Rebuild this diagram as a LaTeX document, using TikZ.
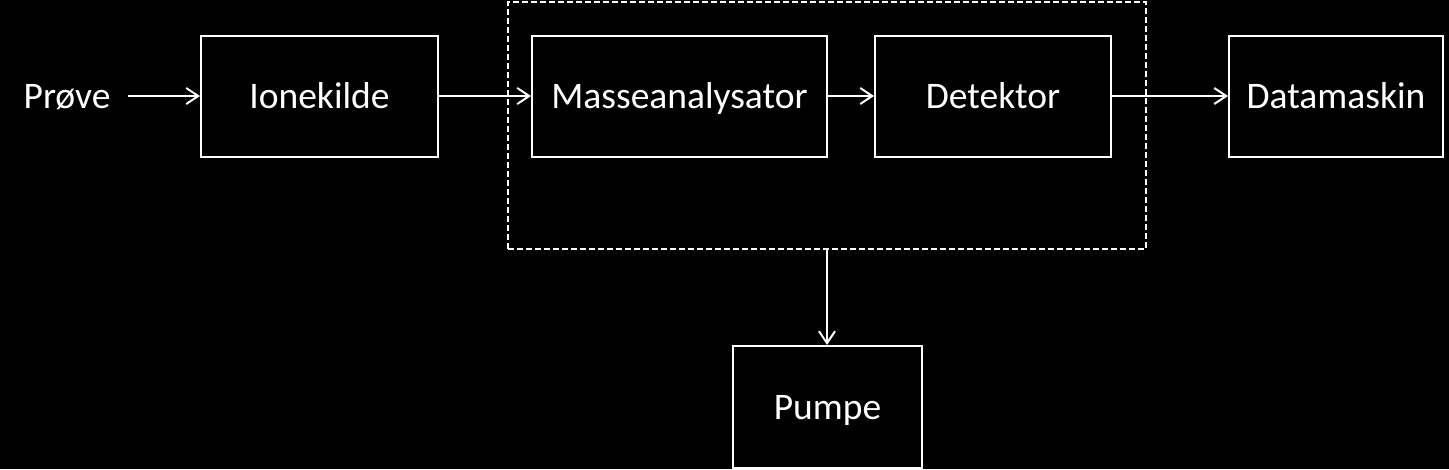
\documentclass[tikz,border=0pt]{standalone}
\usepackage{fontspec}
\setmainfont{Carlito}
\usepackage{tikz}
\usetikzlibrary{positioning,arrows.meta}
\tikzset{block/.style={rectangle,draw=white,line width=2pt,inner sep=0pt,minimum height=121pt,text=white,text height=24pt,text depth=0pt,font=\fontsize{37.5}{40}\selectfont}}
\tikzset{flow/.style={-{Straight Barb[length=12pt,width=16pt,line width=2pt]},draw=white,line width=2pt}}

\begin{document}
\begin{tikzpicture}[x=1pt,y=-1pt]
        \fill[black] (0,0) rectangle (1449,469);
        \useasboundingbox (0,0) rectangle (1449,469);

        \node[block,minimum width=237pt] (ionekilde) at (319.5,96) {Ionekilde};
        \node[text=white,text height=24pt,text depth=0pt,font=\fontsize{37.5}{40}\selectfont] (prove) at (67,96) {Prøve};
        \coordinate (inn) at (128,96);

        \node[block,minimum width=295pt,right=92pt of ionekilde] (masse) {Masseanalysator};
        \node[block,minimum width=236pt,right=46pt of masse] (detektor) {Detektor};
        \node[block,minimum width=214pt,right=116pt of detektor] (datamaskin) {Datamaskin};

        \node[rectangle,draw=white,line width=2pt,dash pattern=on 6pt off 3pt,minimum width=638pt,minimum height=247pt,inner sep=0pt] (vakuum) at (827,125.5) {};
        \node[block,minimum width=189pt,minimum height=122pt] (pumpe) at (827.5,407) {Pumpe};

        \draw[flow] (inn) -- (ionekilde.west);
        \draw[flow] (ionekilde) -- (masse);
        \draw[flow] (masse) -- (detektor);
        \draw[flow] (detektor) -- (datamaskin);
        \draw[flow] (vakuum.south) -- (vakuum.south |- pumpe.north);
    \end{tikzpicture}
\end{document}
